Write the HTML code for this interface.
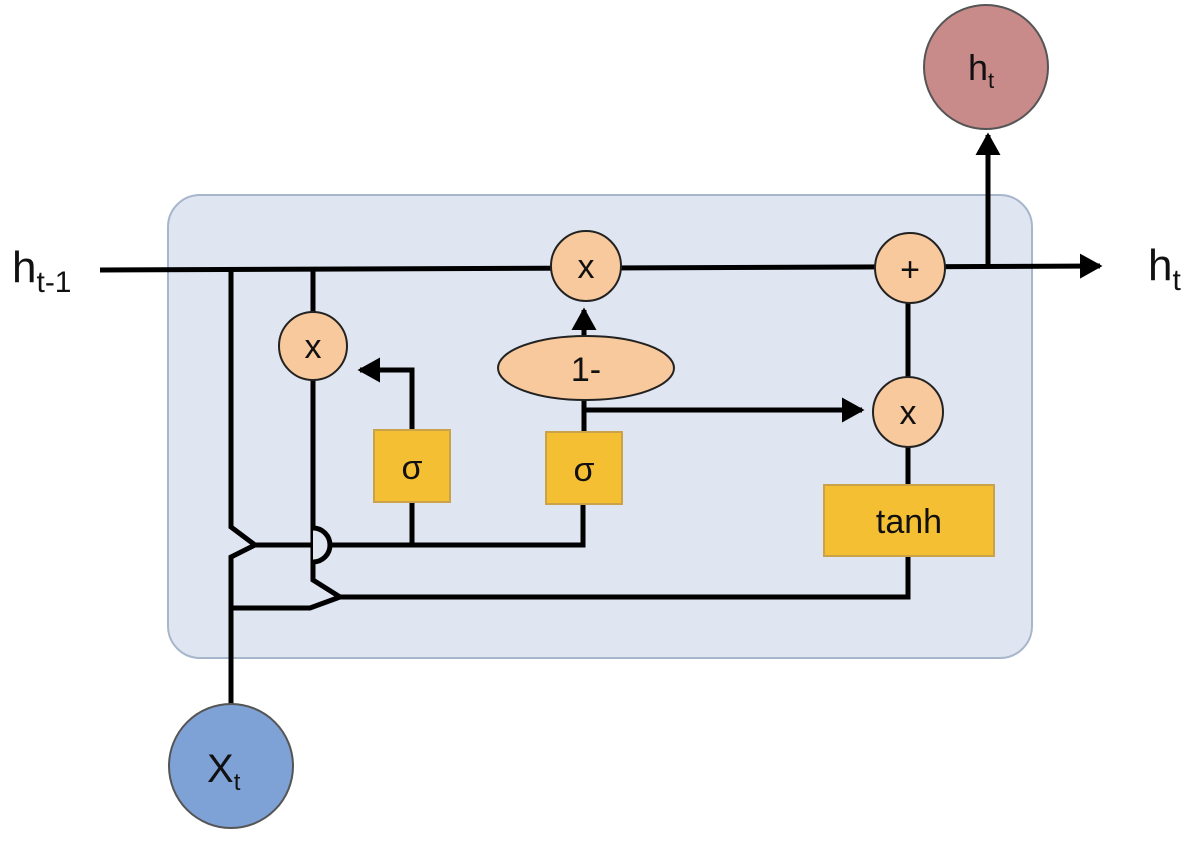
<!DOCTYPE html>
<html><head><style>body{margin:0;background:#fff}</style></head><body>
<svg width="1204" height="844" viewBox="0 0 1204 844" xmlns="http://www.w3.org/2000/svg" font-family="Liberation Sans, sans-serif">
<defs><marker id="a" markerWidth="6" markerHeight="6" refX="4" refY="3" orient="auto" markerUnits="strokeWidth"><path d="M0,0.5 L4.5,3 L0,5.5 z" fill="#000"/></marker></defs>
<rect x="168" y="195" width="864" height="463" rx="32" fill="#dfe5f1" stroke="#a8b6cc" stroke-width="2"/>
<g stroke="#000" stroke-width="5" fill="none" stroke-linejoin="miter">
<line x1="100" y1="270" x2="1100" y2="266" marker-end="url(#a)"/>
<line x1="988" y1="268" x2="988" y2="135" marker-end="url(#a)"/>
<path d="M231,270 V527 L255,545 L231,557 V705"/>
<path d="M255,545 H583 V500"/>
<path d="M231,608 H310 L340,597 H908 V550"/>
<path d="M313,270 V580 L340,597"/>
<path d="M412,545 V370 H360" marker-end="url(#a)"/>
<path d="M584,500 V336"/>
<path d="M584,336 V310" marker-end="url(#a)"/>
<path d="M584,410 H862" marker-end="url(#a)"/>
<path d="M908,300 V490"/>
</g>
<path d="M313,528 A17,17 0 0 1 313,562" stroke="#000" stroke-width="5" fill="#dfe5f1"/>
<g fill="#f8c99c" stroke="#222" stroke-width="2">
<circle cx="586" cy="266" r="35"/><circle cx="910" cy="268" r="35"/>
<circle cx="313" cy="346" r="34"/><circle cx="908" cy="412" r="35"/>
<ellipse cx="586" cy="368" rx="88" ry="32"/>
</g>
<g fill="#f5bf33" stroke="#c9a24a" stroke-width="2">
<rect x="374" y="430" width="76" height="72"/><rect x="546" y="432" width="76" height="72"/>
<rect x="824" y="485" width="170" height="71"/>
</g>
<circle cx="986" cy="67" r="62" fill="#c98a8a" stroke="#555" stroke-width="2"/>
<circle cx="231" cy="766" r="62" fill="#7ea1d6" stroke="#555" stroke-width="2"/>
<g font-size="34" text-anchor="middle" fill="#111">
<text x="586" y="278">x</text><text x="910" y="281">+</text>
<text x="313" y="358">x</text><text x="908" y="424">x</text>
<text x="586" y="381">1-</text>
<text x="412" y="479">σ</text><text x="584" y="481">σ</text>
<text x="909" y="533">tanh</text>
</g>
<text x="968" y="80" font-size="36" fill="#111">h<tspan font-size="22" dy="8">t</tspan></text>
<text x="207" y="782" font-size="40" fill="#111">X<tspan font-size="24" dy="8">t</tspan></text>
<text x="12" y="282" font-size="44" fill="#111">h<tspan font-size="30" dy="10">t-1</tspan></text>
<text x="1148" y="280" font-size="44" fill="#111">h<tspan font-size="30" dy="10">t</tspan></text>
</svg>
</body></html>
